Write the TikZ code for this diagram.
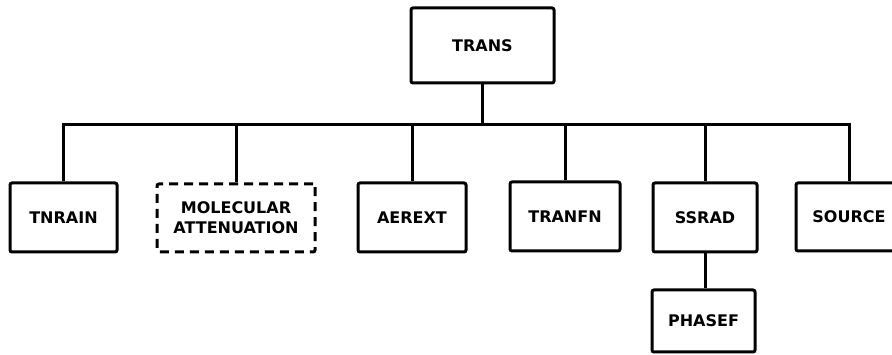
\documentclass[tikz,border=0pt]{standalone}
\usepackage{fontspec}
\setmainfont{DejaVu Sans}
\begin{document}
\begin{tikzpicture}[x=1pt,y=-1pt,
  every node/.style={font=\fontsize{16}{20}\selectfont\bfseries},
  module/.style={draw, line width=3pt, rounded corners=2pt, align=center, inner sep=0pt},
  optmodule/.style={module, dash pattern=on 9pt off 6pt},
  link/.style={line width=3pt, line join=miter}]
\useasboundingbox (0,0) rectangle (892,355);

% top-level routine
\node[module, minimum width=143pt, minimum height=75pt] (trans) at (482.5,45.5) {TRANS};

% routines called from TRANS
\node[module, minimum width=107pt, minimum height=69pt] (tnrain) at (63.5,217.5) {TNRAIN};
\node[optmodule, minimum width=158pt, minimum height=68pt] (molec) at (236,218) {MOLECULAR\\ATTENUATION};
\node[module, minimum width=108pt, minimum height=69pt] (aerext) at (412,217.5) {AEREXT};
\node[module, minimum width=110pt, minimum height=69pt] (tranfn) at (565,216.5) {TRANFN};
\node[module, minimum width=104pt, minimum height=69pt] (ssrad) at (705,217.5) {SSRAD};
\node[module, minimum width=106pt, minimum height=68pt] (source) at (849,217) {SOURCE};

% routine called from SSRAD
\node[module, minimum width=103pt, minimum height=62pt] (phasef) at (703.5,321) {PHASEF};

% distribution bus: outer drops and the bar in one path
\coordinate (busL) at (63.5,125);
\draw[link] (tnrain.north) |- (source.north |- busL) -- (source.north);
\draw[link] (trans.south) -- (trans.south |- busL);
\foreach \n in {molec, aerext, tranfn, ssrad}
  \draw[link] (\n.north) -- (\n.north |- busL);
\draw[link] (ssrad.south) -- (ssrad.south |- phasef.north);
\end{tikzpicture}
\end{document}
